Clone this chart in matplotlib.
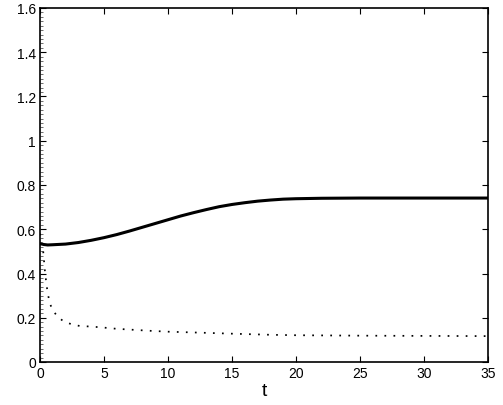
import numpy as np
import matplotlib
matplotlib.use("Agg")
import matplotlib.pyplot as plt
from matplotlib.ticker import MultipleLocator

# Solid curve
t_solid = [0, 0.3, 0.6, 1, 2, 3, 4, 5, 6, 7, 8, 9, 10, 11, 12, 13, 14, 15, 16, 17, 18, 19, 20, 22, 25, 28, 31, 35]
y_solid = [0.535, 0.531, 0.529, 0.530, 0.533, 0.540, 0.550, 0.562, 0.576, 0.592, 0.609, 0.626, 0.643, 0.660, 0.675, 0.689, 0.702, 0.712, 0.720, 0.727, 0.732, 0.736, 0.738, 0.740, 0.741, 0.741, 0.741, 0.741]

# Dotted curve
t_dot = [0, 0.1, 0.25, 0.4, 0.6, 0.8, 1.0, 1.3, 1.7, 2.1, 2.6, 3.1, 4.0, 4.7, 6, 8.6, 10, 12.3, 15, 18, 20, 25, 30, 35]
y_dot = [0.58, 0.55, 0.50, 0.40, 0.31, 0.26, 0.235, 0.21, 0.19, 0.178, 0.168, 0.163, 0.160, 0.157, 0.150, 0.141, 0.137, 0.133, 0.128, 0.123, 0.121, 0.119, 0.118, 0.117]

plt.rcParams['font.family'] = ['Liberation Sans', 'DejaVu Sans']

fig = plt.figure(figsize=(5.03, 4.06), dpi=100)
ax = fig.add_axes([40/503, 1-363/406, (488-40)/503, (363-9)/406])

ax.plot(t_solid, y_solid, color='black', linewidth=2.2, solid_capstyle='round')
ax.plot(t_dot, y_dot, color='black', linewidth=1.25, linestyle=(0, (1, 4.2)))

ax.set_xlim(0, 35)
ax.set_ylim(0, 1.6)
ax.xaxis.set_major_locator(MultipleLocator(5))
ax.set_yticks(np.arange(0, 1.61, 0.2))
ax.set_yticklabels(['0', '0.2', '0.4', '0.6', '0.8', '1', '1.2', '1.4', '1.6'])

ax.tick_params(direction='in', top=True, right=True, length=4, width=0.8, labelsize=10, pad=3)
ax.yaxis.set_minor_locator(MultipleLocator(0.02))
ax.tick_params(which='minor', direction='in', left=True, right=False, top=False, bottom=False, length=2, width=0.4)

for s in ax.spines.values():
    s.set_linewidth(1.2)

ax.set_xlabel('t', fontsize=14, labelpad=1)

fig.savefig('out.png', dpi=100)
